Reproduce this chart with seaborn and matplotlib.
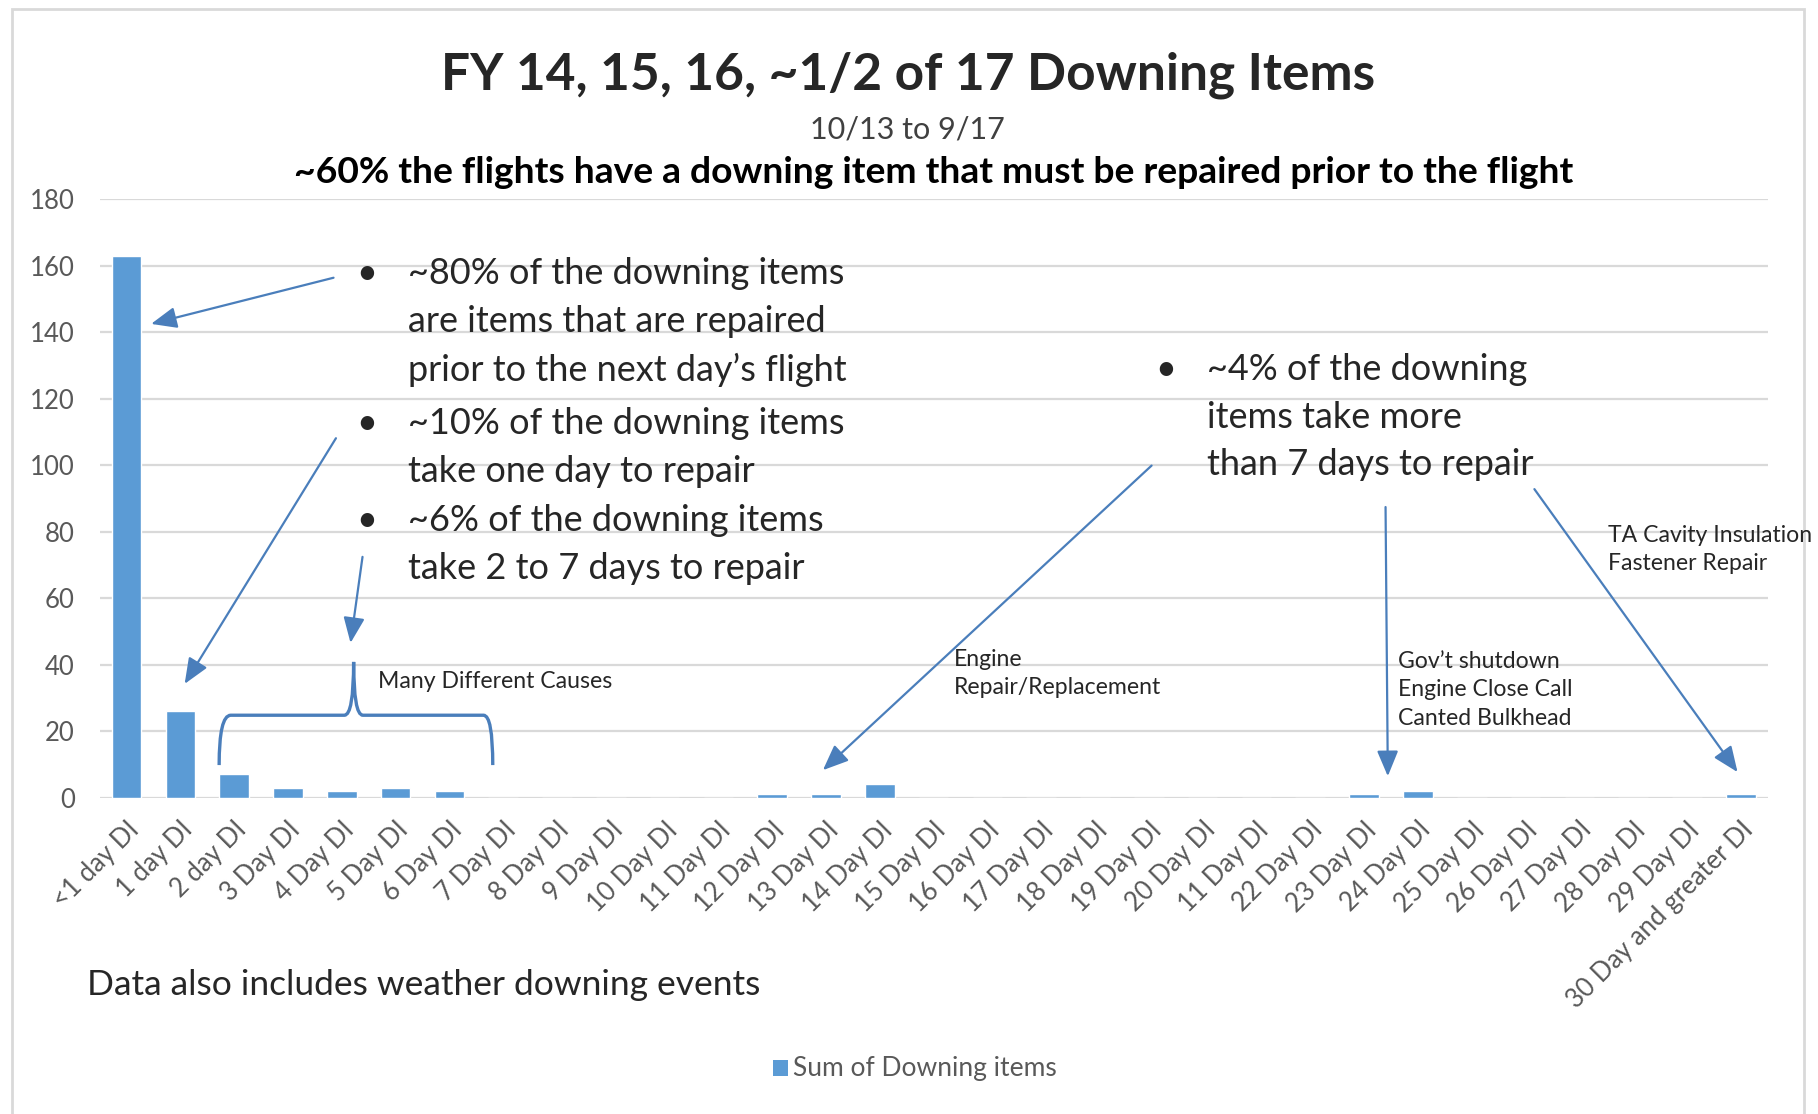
import matplotlib
matplotlib.use("Agg")
import matplotlib.pyplot as plt
from matplotlib.patches import Rectangle, PathPatch, FancyArrowPatch
from matplotlib.path import Path
import pandas as pd
import seaborn as sns


# x categories as printed in the chart (the 21st label really says "11 Day DI")
day_labels = ["<1 day DI", "1 day DI", "2 day DI"] + \
    [f"{d} Day DI" for d in range(3, 21)] + ["11 Day DI"] + \
    [f"{d} Day DI" for d in range(22, 30)] + ["30 Day and greater DI"]
downing_items = [163, 26, 7, 3, 2, 3, 2, 0, 0, 0, 0, 0, 1, 1, 4, 0, 0, 0, 0, 0,
                 0, 0, 0, 1, 2, 0, 0, 0, 0, 0, 1]
y_ticks = [0, 20, 40, 60, 80, 100, 120, 140, 160, 180]

df = pd.DataFrame({"pos": range(len(day_labels)), "items": downing_items})

BAR = "#5b9bd5"
ARROW = "#4a7ebb"
GRID = "#d9d9d9"
TICK = "#595959"

sns.set_style("white")
plt.rcParams["font.family"] = ["Lato", "DejaVu Sans"]

fig = plt.figure(figsize=(18.18, 11.14), dpi=100)
ax = fig.add_axes([0.0548, 0.284, 0.9175, 0.537])

sns.barplot(data=df, x="pos", y="items", color=BAR, width=0.55, saturation=1,
            ax=ax, zorder=3)

ax.set_xlim(-0.5, len(day_labels) - 0.5)
ax.set_ylim(0, 180)
ax.set_yticks(y_ticks)
ax.set_yticklabels([str(t) for t in y_ticks], fontsize=18.5, color=TICK)
ax.set_xticks(range(len(day_labels)))
ax.set_xticklabels(day_labels, rotation=45, ha="right", rotation_mode="anchor",
                   fontsize=18.5, color=TICK)
ax.tick_params(axis="both", length=0)
ax.tick_params(axis="x", pad=14)
ax.tick_params(axis="y", pad=18)
ax.yaxis.grid(True, color=GRID, linewidth=1.6, zorder=0)
ax.set_axisbelow(True)
ax.set_xlabel("")
ax.set_ylabel("")
for s in ax.spines.values():
    s.set_visible(False)


# helper: positions measured on the 1568x961 view of the reference
def fp(x, y):
    return (x / 1568, 1 - y / 961)


# outer chart border
fig.patches.append(Rectangle(fp(10, 1000), fp(1556, 0)[0] - fp(10, 0)[0],
                             fp(0, 8)[1] - fp(0, 1000)[1],
                             transform=fig.transFigure, fill=False,
                             edgecolor=GRID, linewidth=2))

# titles
fig.text(*fp(783, 65), "FY 14, 15, 16, ~1/2 of 17 Downing Items", ha="center",
         va="center", fontsize=37, fontweight="bold", color="#262626")
fig.text(*fp(783, 112), "10/13 to 9/17", ha="center", va="center",
         fontsize=22, color="#404040")
fig.text(*fp(805, 149),
         "~60% the flights have a downing item that must be repaired prior to the flight",
         ha="center", va="center", fontsize=26.8, fontweight="bold", color="black")

# bullet text blocks
big = 26
left_lines = [(236, "~80% of the downing items", True),
              (277, "are items that are repaired", False),
              (319, "prior to the next day\u2019s flight", False),
              (365, "~10% of the downing items", True),
              (407, "take one day to repair", False),
              (449, "~6% of the downing items", True),
              (490, "take 2 to 7 days to repair", False)]
for yy, txt, bullet in left_lines:
    fig.text(*fp(352, yy), txt, ha="left", va="center", fontsize=big)
    if bullet:
        fig.text(*fp(316, yy), "\u2022", ha="center", va="center", fontsize=big)

right_lines = [(319, "~4% of the downing", True),
               (360, "items take more", False),
               (401, "than 7 days to repair", False)]
for yy, txt, bullet in right_lines:
    fig.text(*fp(1041, yy), txt, ha="left", va="center", fontsize=big)
    if bullet:
        fig.text(*fp(1005, yy), "\u2022", ha="center", va="center", fontsize=big)

# small notes
small = 16.6
fig.text(*fp(326, 588), "Many Different Causes", ha="left", va="center", fontsize=small)
fig.text(*fp(823, 581), "Engine\nRepair/Replacement", ha="left", va="center",
         fontsize=small, linespacing=1.45)
fig.text(*fp(1206, 595), "Gov\u2019t shutdown\nEngine Close Call\nCanted Bulkhead",
         ha="left", va="center", fontsize=small, linespacing=1.45)
fig.text(*fp(1387, 474), "TA Cavity Insulation\nFastener Repair", ha="left",
         va="center", fontsize=small, linespacing=1.45)
fig.text(*fp(75, 850), "Data also includes weather downing events", ha="left",
         va="center", fontsize=25.5)

# arrows (start, end) in reference view coordinates
arrows = [((290, 239), (128, 280)),
          ((291, 376), (158, 592)),
          ((313, 478), (302, 557)),
          ((995, 400), (708, 666)),
          ((1195, 435), (1197, 672)),
          ((1322, 420), (1500, 668))]
for (x0, y0), (x1, y1) in arrows:
    fig.add_artist(FancyArrowPatch(
        fp(x0, y0), fp(x1, y1), transform=fig.transFigure,
        arrowstyle="-|>,head_length=12,head_width=5", mutation_scale=1.3,
        color=ARROW, linewidth=1.6))

# curly brace over the 2-7 day bars
verts = [fp(189, 660), fp(189, 617), fp(199, 617), fp(297, 617),
         fp(305, 617), fp(305, 571), fp(305, 617), fp(313, 617),
         fp(417, 617), fp(425, 617), fp(425, 660)]
codes = [Path.MOVETO, Path.CURVE3, Path.CURVE3, Path.LINETO,
         Path.CURVE3, Path.CURVE3, Path.CURVE3, Path.CURVE3,
         Path.LINETO, Path.CURVE3, Path.CURVE3]
fig.patches.append(PathPatch(Path(verts, codes), transform=fig.transFigure,
                             fill=False, edgecolor=ARROW, linewidth=2.4))

# legend
fig.patches.append(Rectangle(fp(667, 928), 15 / 1818, 16 / 1114,
                             transform=fig.transFigure, facecolor=BAR,
                             edgecolor="none"))
fig.text(*fp(684, 922), "Sum of Downing items", ha="left", va="center",
         fontsize=19, color=TICK)

fig.savefig("out.png", dpi=100)
